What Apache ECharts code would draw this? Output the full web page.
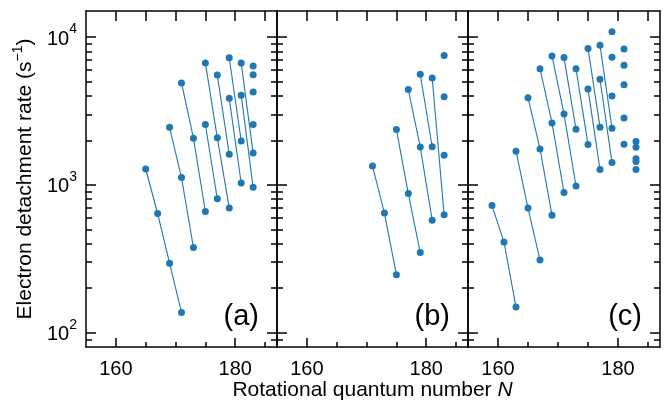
<!DOCTYPE html>
<html><head><meta charset="utf-8">
<script src="https://cdn.jsdelivr.net/npm/echarts@6/dist/echarts.min.js"></script>
<style>html,body{margin:0;padding:0;background:#fff}#c{width:668px;height:401px}</style>
</head><body><div id="c"></div>
<script>
// ---------- data ----------
// panel (a): chains of [N, rate]
const panelA_chains = [
  [[165,1280],[167,640],[169,295],[171,137]],
  [[169,2450],[171,1120],[173,377]],
  [[171,4890],[173,2070],[175,660]],
  [[175,6680],[177,2080],[179,696]],
  [[175,2560],[177,804]],
  [[177,5530],[179,1610]],
  [[179,7240],[181,1980]],
  [[179,3850],[181,1030]],
  [[181,6680],[183,1640]],
  [[181,4030],[183,964]]
];
const panelA_single = [[183,6370],[183,5560],[183,4250],[183,2560]];

// panel (b)
const panelB_chains = [
  [[171,1340],[173,644],[175,247]],
  [[175,2370],[177,873],[179,348]],
  [[177,4410],[179,1800],[181,577]],
  [[179,5600],[181,1810]],
  [[181,5280],[183,627]]
];
const panelB_single = [[183,7510],[183,3950],[183,1585]];

// panel (c)
const panelC_chains = [
  [[159,724],[161,410],[163,149]],
  [[163,1690],[165,696],[167,310]],
  [[165,3890],[167,1750],[169,624]],
  [[167,6110],[169,2625],[171,888]],
  [[169,7445],[171,3017],[173,984]],
  [[171,7256],[173,2378]],
  [[173,6110],[175,1873]],
  [[175,8380],[177,2456]],
  [[175,4454],[177,1268]],
  [[177,8787],[179,2417]],
  [[177,5180],[179,1415]]
];
const panelC_single = [
  [179,10860],[179,7290],[179,3993],
  [181,8298],[181,6443],[181,4760],[181,2838],[181,1884],
  [183,1962],[183,1799],[183,1499],[183,1439],[183,1268]
];

const panelLabels = ['(a)', '(b)', '(c)'];
const xMin = 155, xMax = 187;
const yMin = 80, yMax = 15000;
const xMajorTicks = [160, 180];
const xMinorTicks = [165, 170, 175, 185];
const xTopTicks = [160, 165, 170, 175, 180, 185];
const yMajorTicks = [100, 1000, 10000];
const yMinorTicks = [90, 200, 300, 400, 500, 600, 700, 800, 900,
  2000, 3000, 4000, 5000, 6000, 7000, 8000, 9000];
const xTitle = 'Rotational quantum number {i|N}';
const yTitle = 'Electron detachment rate (s{s|\u22121})';

// ---------- layout / style ----------
const FONT = '"Liberation Sans", Arial, sans-serif';
const BLUE = '#1f77b4';
const gridLefts = [86, 277, 468];
const gridWidths = [191, 191, 192];
const gridTop = 11, gridHeight = 336;
const lg = v => Math.log10(v);

const panels = [
  {chains: panelA_chains, single: panelA_single},
  {chains: panelB_chains, single: panelB_single},
  {chains: panelC_chains, single: panelC_single}
];

const lineSt = {color: '#000', width: 1.5};
const grid = [], xAxis = [], yAxis = [], series = [], graphic = [];

panels.forEach((p, g) => {
  grid.push({left: gridLefts[g], top: gridTop, width: gridWidths[g], height: gridHeight,
    containLabel: false, outerBoundsMode: 'none'});
  const xBase = {type: 'value', gridIndex: g, min: xMin, max: xMax, splitLine: {show: false}};
  const xi = xAxis.length;
  xAxis.push(Object.assign({}, xBase, {
    position: 'bottom',
    axisLine: {show: true, lineStyle: lineSt},
    axisTick: {show: true, inside: true, length: 9, customValues: xMajorTicks, lineStyle: lineSt},
    axisLabel: {show: true, customValues: xMajorTicks, color: '#000', fontSize: 20, fontFamily: FONT, margin: 12},
    name: g === 1 ? xTitle : '',
    nameLocation: 'middle',
    nameGap: 33,
    nameMoveOverlap: false,
    nameTextStyle: {color: '#000', fontSize: 21, fontFamily: FONT,
      rich: {i: {fontStyle: 'italic', fontSize: 21, fontFamily: FONT, color: '#000'}}}
  }));
  xAxis.push(Object.assign({}, xBase, {
    position: 'bottom',
    axisLine: {show: false},
    axisTick: {show: true, inside: true, length: 5, customValues: xMinorTicks, lineStyle: lineSt},
    axisLabel: {show: false}
  }));
  xAxis.push(Object.assign({}, xBase, {
    position: 'top',
    axisLine: {show: true, lineStyle: lineSt},
    axisTick: {show: true, inside: true, length: 10, customValues: xTopTicks, lineStyle: lineSt},
    axisLabel: {show: false}
  }));

  const yi = yAxis.length;
  yAxis.push({type: 'log', gridIndex: g, min: yMin, max: yMax, show: false, position: 'left'});
  const yBase = {type: 'value', gridIndex: g, min: lg(yMin), max: lg(yMax), splitLine: {show: false}};
  const majorExp = yMajorTicks.map(v => Math.round(lg(v)));
  const minorExp = yMinorTicks.map(lg);
  yAxis.push(Object.assign({}, yBase, {
    position: 'left',
    axisLine: {show: true, lineStyle: lineSt},
    axisTick: {show: true, inside: true, length: 10, customValues: majorExp, lineStyle: lineSt},
    axisLabel: {show: g === 0, customValues: majorExp, margin: 9,
      formatter: v => '{b|10}{s|' + Math.round(v) + '}',
      rich: {
        b: {fontSize: 20, fontFamily: FONT, color: '#000', lineHeight: 30, padding: [4, 0, 0, 0]},
        s: {fontSize: 14, fontFamily: FONT, color: '#000', verticalAlign: 'top'}
      }},
    name: g === 0 ? yTitle : '',
    nameLocation: 'middle',
    nameGap: 47,
    nameTextStyle: {color: '#000', fontSize: 21, fontFamily: FONT, lineHeight: 28,
      rich: {s: {fontSize: 14, fontFamily: FONT, color: '#000', verticalAlign: 'top'}}}
  }));
  yAxis.push(Object.assign({}, yBase, {
    position: 'left',
    axisLine: {show: false},
    axisTick: {show: true, inside: true, length: 6, customValues: minorExp, lineStyle: lineSt},
    axisLabel: {show: false}
  }));
  yAxis.push(Object.assign({}, yBase, {
    position: 'right',
    axisLine: {show: true, lineStyle: lineSt},
    axisTick: {show: true, inside: true, length: 10, customValues: majorExp, lineStyle: lineSt},
    axisLabel: {show: false}
  }));
  yAxis.push(Object.assign({}, yBase, {
    position: 'right',
    axisLine: {show: false},
    axisTick: {show: true, inside: true, length: 6, customValues: minorExp, lineStyle: lineSt},
    axisLabel: {show: false}
  }));

  p.chains.forEach(ch => series.push({
    type: 'line', xAxisIndex: xi, yAxisIndex: yi, data: ch,
    symbol: 'circle', symbolSize: 7, showSymbol: true,
    lineStyle: {color: BLUE, width: 1.1}, itemStyle: {color: BLUE},
    animation: false, silent: true
  }));
  series.push({
    type: 'scatter', xAxisIndex: xi, yAxisIndex: yi, data: p.single,
    symbol: 'circle', symbolSize: 7, itemStyle: {color: BLUE, opacity: 1},
    animation: false, silent: true
  });

  graphic.push({
    type: 'text', z: 100,
    x: gridLefts[g] + gridWidths[g] - 18, y: 317,
    style: {text: panelLabels[g], fill: '#000', fontSize: 29, fontFamily: FONT,
      textAlign: 'right', textVerticalAlign: 'middle'}
  });
});

const chart = echarts.init(document.getElementById('c'), null, {renderer: 'canvas'});
chart.setOption({
  backgroundColor: '#fff',
  animation: false,
  grid, xAxis, yAxis, series, graphic
});
</script>
</body></html>
